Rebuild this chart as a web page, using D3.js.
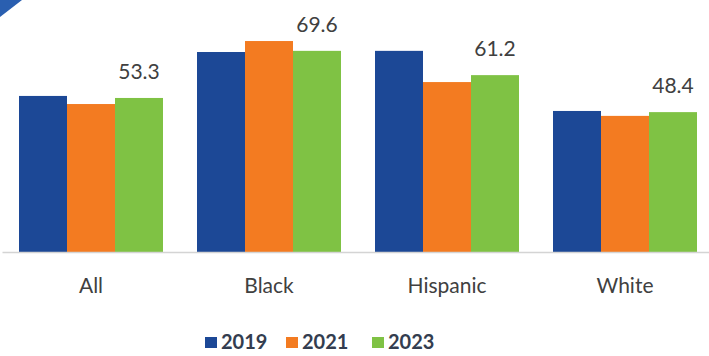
<!DOCTYPE html>
<meta charset="utf-8">
<head>
    <script src="https://d3js.org/d3.v7.min.js"></script>
    <style>
        body { margin: 0; background: #fff; }
        text { font-family: Lato, "Open Sans", sans-serif; }
    </style>
</head>
<body>
<div id="chart"></div>
<script>
    // data
    const groups = ["All", "Black", "Hispanic", "White"]
    const years = ["2019", "2021", "2023"]
    const values2019 = [54.0, 69.2, 69.6, 48.8]
    const values2021 = [51.2, 73.0, 58.8, 47.1]
    const values2023 = [53.3, 69.6, 61.2, 48.4]
    const colors = ["#1c4896", "#f37b21", "#7fc244"]

    const series = [values2019, values2021, values2023]
    const data = groups.map((g, i) => ({
        group: g,
        vals: years.map((y, j) => ({ year: y, value: series[j][i] }))
    }))

    const width = 709, height = 356
    const svg = d3.select("#chart").append("svg")
        .attr("width", width)
        .attr("height", height)

    // little corner decoration
    svg.append("polygon")
        .attr("points", "0,0 22,0 0,17")
        .attr("fill", "#2a5fb0")

    const x = d3.scaleBand()
        .domain(groups)
        .range([2, 714])
        .paddingInner(34 / 178)
        .paddingOuter(17 / 178)

    const xInner = d3.scaleBand()
        .domain(years)
        .range([0, x.bandwidth()])

    const y = d3.scaleLinear()
        .domain([0, 80])
        .range([252, 252 - 80 * 2.89])

    const color = d3.scaleOrdinal().domain(years).range(colors)

    const g = svg.selectAll(".grp")
        .data(data)
        .join("g")
        .attr("class", "grp")
        .attr("transform", d => `translate(${x(d.group)},0)`)

    g.selectAll("rect")
        .data(d => d.vals)
        .join("rect")
        .attr("x", d => xInner(d.year))
        .attr("y", d => y(d.value))
        .attr("width", xInner.bandwidth())
        .attr("height", d => y(0) - y(d.value))
        .attr("fill", d => color(d.year))

    // labels only on the 2023 bars
    g.append("text")
        .attr("x", xInner("2023") + xInner.bandwidth() / 2)
        .attr("y", d => y(d.vals[2].value) - 19)
        .attr("text-anchor", "middle")
        .attr("font-size", 21)
        .attr("fill", "#404040")
        .text(d => d.vals[2].value.toFixed(1))

    const xAxis = svg.append("g")
        .attr("transform", `translate(0,${y(0)})`)
        .call(d3.axisBottom(x).tickSize(0).tickPadding(26))
    xAxis.select(".domain").attr("stroke", "#d4d4d4").attr("stroke-width", 1.5)
    xAxis.selectAll("text")
        .attr("font-size", 21)
        .attr("fill", "#404040")
        .style("font-family", "Lato, sans-serif")

    // legend
    const legendX = [205, 286, 372]
    const legend = svg.selectAll(".leg")
        .data(years)
        .join("g")
        .attr("class", "leg")
        .attr("transform", (d, i) => `translate(${legendX[i]},337)`)
    legend.append("rect")
        .attr("width", 12)
        .attr("height", 11)
        .attr("fill", d => color(d))
    legend.append("text")
        .attr("x", 16)
        .attr("y", 12)
        .attr("font-size", 20)
        .attr("font-weight", "bold")
        .attr("fill", "#333d4f")
        .text(d => d)
</script>
</body>
